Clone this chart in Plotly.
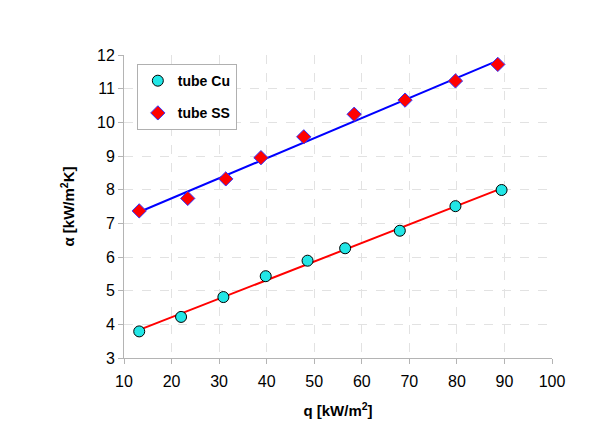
import numpy as np
import plotly.graph_objects as go

# Data
q_cu = [13.2, 22.0, 30.9, 39.8, 48.6, 56.5, 68.0, 79.7, 89.4]
a_cu = [3.79, 4.22, 4.81, 5.43, 5.89, 6.26, 6.78, 7.51, 7.99]
q_ss = [13.2, 23.4, 31.4, 38.8, 47.8, 58.4, 69.1, 79.7, 88.6]
a_ss = [7.37, 7.74, 8.32, 8.95, 9.57, 10.24, 10.66, 11.23, 11.72]

x_ticks = [10, 20, 30, 40, 50, 60, 70, 80, 90, 100]
y_ticks = [3, 4, 5, 6, 7, 8, 9, 10, 11, 12]

def trend(x, y):
    k, b = np.polyfit(x, y, 1)
    xs = [min(x), max(x)]
    return xs, [k * v + b for v in xs]

fig = go.Figure()
tx, ty = trend(q_cu, a_cu)
fig.add_trace(go.Scatter(x=tx, y=ty, mode="lines", line=dict(color="#ff0000", width=2),
                         showlegend=False, hoverinfo="skip"))
tx, ty = trend(q_ss, a_ss)
fig.add_trace(go.Scatter(x=tx, y=ty, mode="lines", line=dict(color="#0000ff", width=2),
                         showlegend=False, hoverinfo="skip"))
fig.add_trace(go.Scatter(x=q_cu, y=a_cu, mode="markers", name="tube Cu", legendgroup="cu",
                         marker=dict(symbol="circle", size=11, color="#22e6e6",
                                     line=dict(color="#000000", width=1))))
fig.add_trace(go.Scatter(x=q_ss, y=a_ss, mode="markers", name="tube SS", legendgroup="ss",
                         marker=dict(symbol="diamond", size=11, color="#ff0000",
                                     line=dict(color="#3333ff", width=1))))

axis_common = dict(
    showgrid=True, gridcolor="#e2e2e2", griddash="dash", gridwidth=1,
    showline=True, linecolor="#b4b4b4", linewidth=1,
    ticks="outside", ticklen=5, tickcolor="#b4b4b4",
    zeroline=False,
    tickfont=dict(family="Liberation Sans, Arial", size=16, color="#000000"),
)

fig.update_layout(
    width=592, height=428,
    margin=dict(l=116, r=48, t=47, b=78),
    paper_bgcolor="white", plot_bgcolor="white",
    font=dict(family="Liberation Sans, Arial", color="#000000"),
    xaxis=dict(range=[10, 100], tickvals=x_ticks, ticklabelstandoff=4,
               title=dict(text="<b>q [kW/m<sup>2</sup>]</b>", font=dict(size=15), standoff=16),
               **axis_common),
    yaxis=dict(range=[3, 12], tickvals=y_ticks,
               title=dict(text="<b>α [kW/m<sup>2</sup>K]</b>", font=dict(size=15), standoff=18),
               **axis_common),
    legend=dict(x=0.03, y=0.97, xanchor="left", yanchor="top",
                bordercolor="#b0b0b0", borderwidth=1, bgcolor="white",
                font=dict(size=14, family="Liberation Sans, Arial", weight="bold"),
                tracegroupgap=11, itemwidth=30),
)

fig.write_html("out.html")
